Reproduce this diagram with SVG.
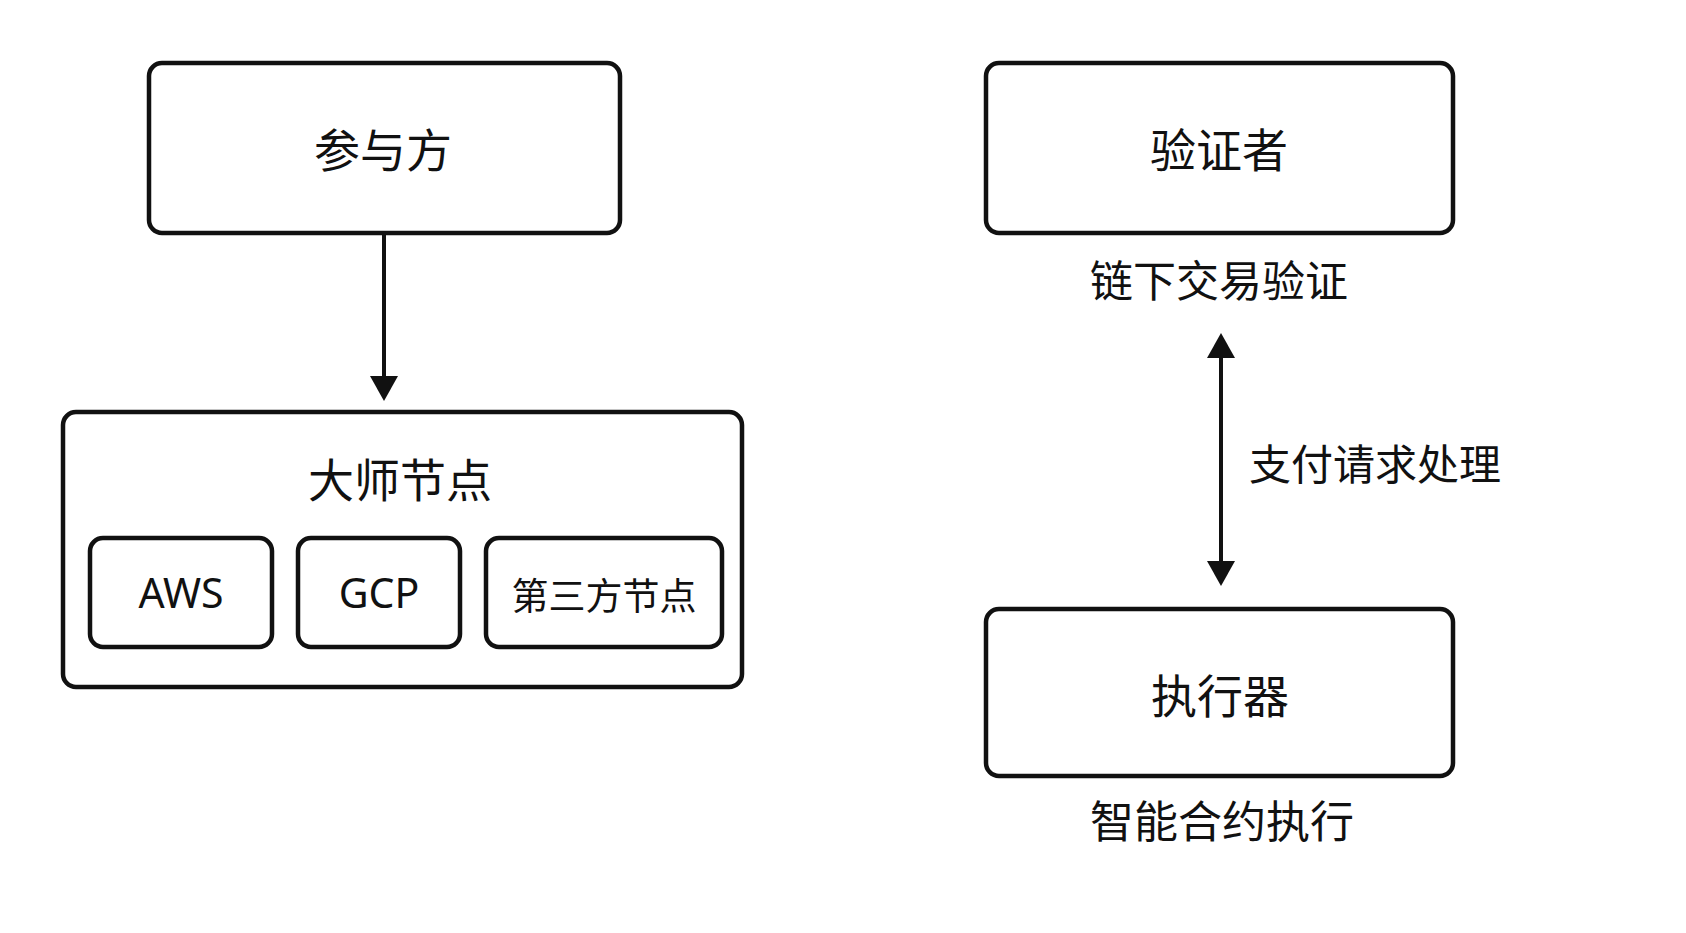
<svg xmlns="http://www.w3.org/2000/svg" width="1686" height="933" viewBox="0 0 1686 933">
  <style>
    .box { fill: #ffffff; stroke: #111111; stroke-width: 4.5; }
    .t { font-family: "Noto Sans", "Noto Sans CJK SC", sans-serif; fill: #111111; text-anchor: middle; dominant-baseline: central; }
    .big { font-size: 46px; }
    .lbl { font-size: 42px; }
    .small { font-size: 37px; }
    .latin { font-size: 41px; }
    .conn { stroke: #111111; stroke-width: 4; fill: none; }
  </style>
  <defs>
    <marker id="ah" markerUnits="userSpaceOnUse" markerWidth="26" markerHeight="28" viewBox="0 0 26 28" refX="0" refY="14" orient="auto-start-reverse">
      <path d="M0,0 L25,14 L0,28 z" fill="#111111"/>
    </marker>
  </defs>
  <rect width="1686" height="933" fill="#ffffff"/>

  <g id="participant">
    <rect class="box" x="149" y="63" width="471" height="170" rx="13"/>
    <text class="t big" x="383" y="149">参与方</text>
  </g>

  <g id="master">
    <rect class="box" x="63" y="412" width="679" height="275" rx="13"/>
    <text class="t big" x="400" y="479">大师节点</text>
  </g>

  <g id="aws">
    <rect class="box" x="90" y="538" width="182" height="109" rx="13"/>
    <text class="t latin" x="181" y="592">AWS</text>
  </g>

  <g id="gcp">
    <rect class="box" x="298" y="538" width="162" height="109" rx="13"/>
    <text class="t latin" x="379" y="592">GCP</text>
  </g>

  <g id="third">
    <rect class="box" x="486" y="538" width="236" height="109" rx="13"/>
    <text class="t small" x="604" y="595">第三方节点</text>
  </g>

  <g id="verifier">
    <rect class="box" x="986" y="63" width="467" height="170" rx="13"/>
    <text class="t big" x="1219" y="149">验证者</text>
    <text class="t lbl" x="1219" y="280" style="font-size:43px">链下交易验证</text>
  </g>

  <g id="executor">
    <rect class="box" x="986" y="609" width="467" height="167" rx="13"/>
    <text class="t big" x="1220" y="695">执行器</text>
    <text class="t lbl" x="1222" y="821" style="font-size:44px">智能合约执行</text>
  </g>

  <g id="connectors">
    <line class="conn" x1="384" y1="233" x2="384" y2="376" marker-end="url(#ah)"/>
    <line class="conn" x1="1221" y1="358" x2="1221" y2="561" marker-start="url(#ah)" marker-end="url(#ah)"/>
    <text class="t lbl" x="1375" y="463">支付请求处理</text>
  </g>
</svg>
